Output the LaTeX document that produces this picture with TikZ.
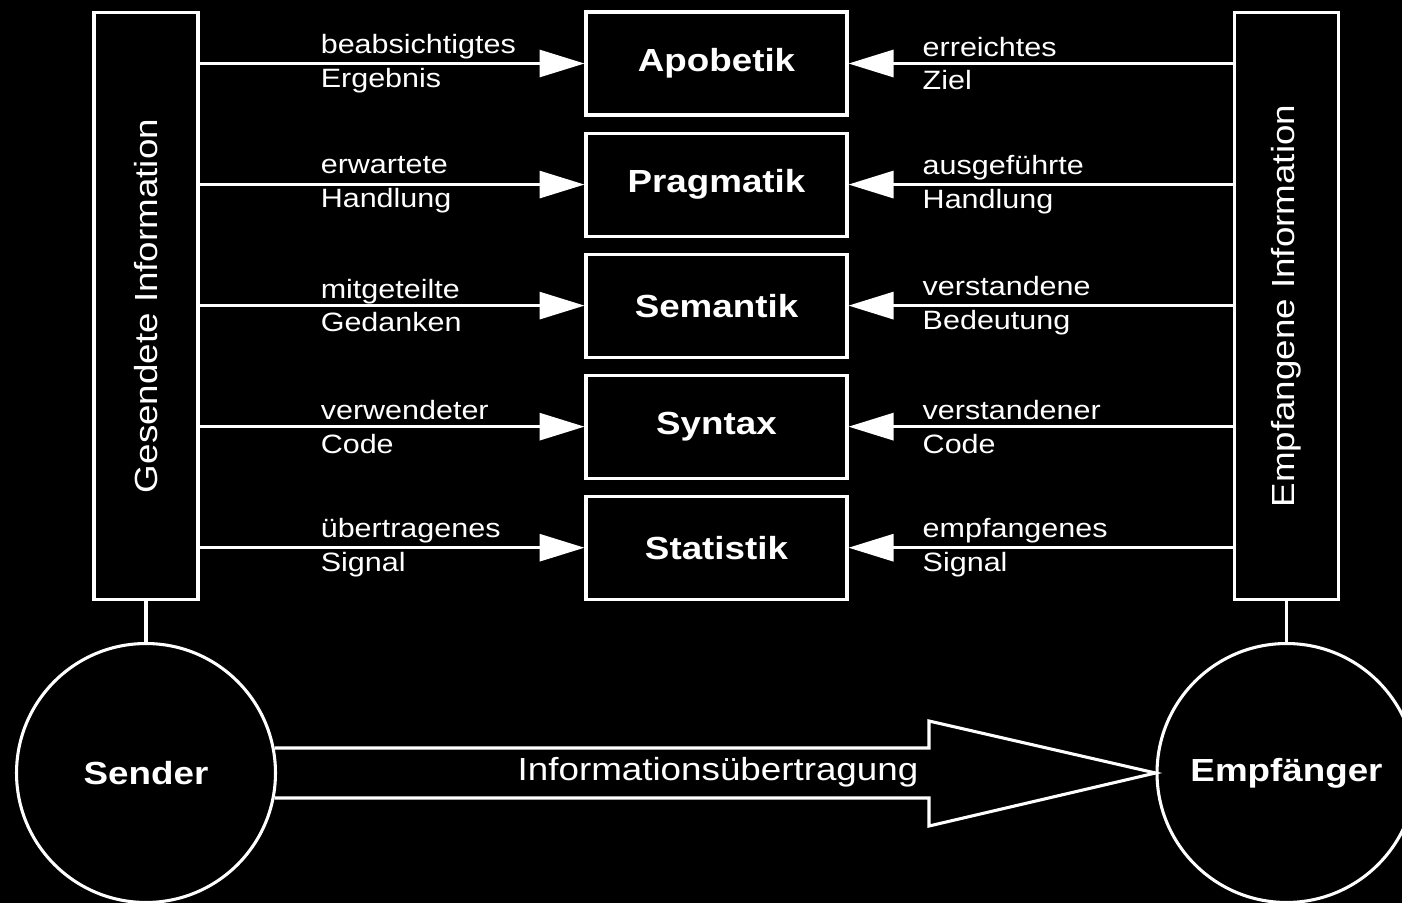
\documentclass[tikz,border=0pt]{standalone}
\usepackage{fontspec}
\setmainfont{Liberation Sans}[FakeStretch=1.15]
\usetikzlibrary{arrows.meta,positioning}
\tikzset{
    -{Triangle[length=0.9cm,width=0.54cm]},
    layer/.style ={rectangle, draw, minimum width=5.22cm, minimum height=2.06cm,
                   font=\fontsize{18.2}{21}\selectfont\bfseries},
    side/.style  ={rectangle, draw, minimum width=2.08cm, minimum height=11.76cm},
    sidetext/.style={rotate=90, font=\fontsize{18.2}{21}\selectfont},
    party/.style ={circle, draw, minimum size=5.18cm,
                   font=\fontsize{18.2}{21}\selectfont\bfseries},
    big/.style   ={font=\fontsize{18.2}{21}\selectfont},
    el/.style    ={inner sep=0pt, anchor=west, align=left,
                   font=\fontsize{15.1}{19.2}\selectfont}
}
\begin{document}
\begin{tikzpicture}[x=0.02cm,y=-0.02cm,line width=1.75pt,white]
    \fill[black] (0,0) rectangle (1402,903);
    \useasboundingbox (0,0) rectangle (1402,903);

    % sender and receiver side
    \node[side] (sent) at (146,306) {};
    \node[sidetext] at (sent) {Gesendete Information};
    \node[side] (recv) at (1286.5,306) {};
    \node[sidetext] at (recv) {Empfangene Information};

    % the five levels
    \node[layer] (apo) at (716.5,63.5) {Apobetik};
    \node[layer] (prag) [below =0.3cm of apo] {Pragmatik};
    \node[layer] (sem) [below =0.3cm of prag] {Semantik};
    \node[layer] (syn) [below =0.3cm of sem] {Syntax};
    \node[layer] (stat) [below =0.3cm of syn] {Statistik};

    \node[party] (snd) [below =0.81cm of sent] {Sender};
    \node[party] (rcv) [below =0.81cm of recv] {Empfänger};

    % what is sent
    \path (sent.east |- apo) edge node[el,pos=0.311] {beabsichtigtes\\Ergebnis} (apo.west);
    \path (sent.east |- prag) edge node[el,pos=0.311] {erwartete\\Handlung} (prag.west);
    \path (sent.east |- sem) edge node[el,pos=0.311] {mitgeteilte\\Gedanken} (sem.west);
    \path (sent.east |- syn) edge node[el,pos=0.311] {verwendeter\\Code} (syn.west);
    \path (sent.east |- stat) edge node[el,pos=0.311] {übertragenes\\Signal} (stat.west);

    % what is received
    \path (recv.west |- apo) edge node[el,pos=0.811] {erreichtes\\Ziel} (apo.east);
    \path (recv.west |- prag) edge node[el,pos=0.811] {ausgeführte\\Handlung} (prag.east);
    \path (recv.west |- sem) edge node[el,pos=0.811] {verstandene\\Bedeutung} (sem.east);
    \path (recv.west |- syn) edge node[el,pos=0.811] {verstandener\\Code} (syn.east);
    \path (recv.west |- stat) edge node[el,pos=0.811] {empfangenes\\Signal} (stat.east);

    \draw[-] (sent) -- (snd);
    \draw[-] (recv) -- (rcv);

    % transfer arrow
    \draw[-,line join=miter] (snd.11.5) -- (snd.11.5 -| 929,0) -- (929,721) -- (rcv.west)
        -- (929,826) -- (snd.-11.5 -| 929,0) -- (snd.-11.5);
    \node[big] (flow) at (718,772) {Informationsübertragung};
\end{tikzpicture}
\end{document}
